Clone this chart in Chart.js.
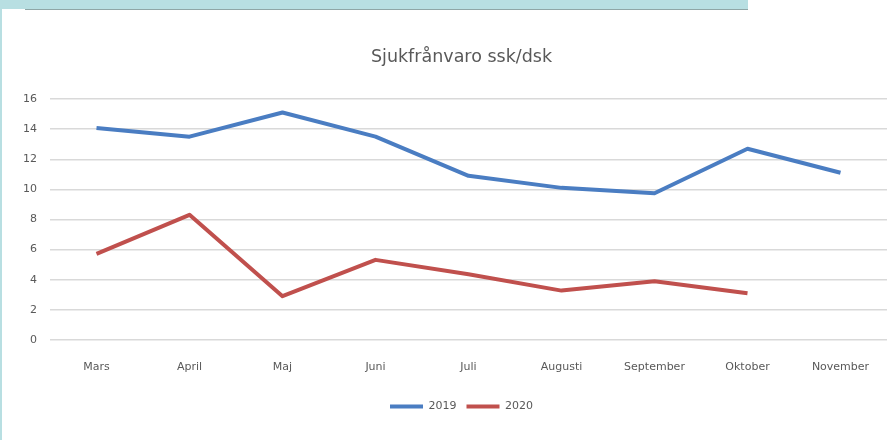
<!DOCTYPE html>
<html>
<head>
<meta charset="utf-8">
<script src="https://cdn.jsdelivr.net/npm/chart.js@4.4.1/dist/chart.umd.min.js"></script>
<style>
  html, body { margin: 0; padding: 0; background: #ffffff; }
  #wrap { position: relative; width: 887px; height: 440px; overflow: hidden; }
  #topband { position: absolute; left: 0; top: 0; width: 748px; height: 9px; background: #b8dfe2; }
  #topline { position: absolute; left: 25px; top: 9px; width: 723px; height: 1px; background: #8fa6a6; }
  #leftband { position: absolute; left: 0; top: 0; width: 2px; height: 440px; background: #b8dfe2; }
  canvas { position: absolute; left: 0; top: 0; }
</style>
</head>
<body>
<div id="wrap">
  <canvas id="c" width="887" height="440"></canvas>
  <div id="topband"></div>
  <div id="topline"></div>
  <div id="leftband"></div>
</div>
<script>
const categories = ["Mars", "April", "Maj", "Juni", "Juli", "Augusti", "September", "Oktober", "November"];
const values2019 = [14.08, 13.5, 15.1, 13.5, 10.9, 10.1, 9.74, 12.7, 11.1];
const values2020 = [5.72, 8.31, 2.91, 5.32, 4.37, 3.28, 3.9, 3.1, null];
const seriesLabels = ["2019", "2020"];
const titleText = "Sjukfrånvaro ssk/dsk";

const FONT = "'DejaVu Sans', sans-serif";

// Title and legend are centred a little right of the canvas centre in the reference
const shiftBlocks = {
  id: 'shiftBlocks',
  afterLayout(chart) {
    [chart.titleBlock, chart.legend].forEach(b => { if (b) { b.left += 36; } });
  }
};

new Chart(document.getElementById('c'), {
  type: 'line',
  data: {
    labels: categories,
    datasets: [
      { label: seriesLabels[0], data: values2019, borderColor: '#4a7dc2', backgroundColor: '#4a7dc2',
        borderWidth: 4, pointRadius: 0, tension: 0, borderJoinStyle: 'round' },
      { label: seriesLabels[1], data: values2020, borderColor: '#c0504d', backgroundColor: '#c0504d',
        borderWidth: 4, pointRadius: 0, tension: 0, borderJoinStyle: 'round' }
    ]
  },
  plugins: [shiftBlocks],
  options: {
    responsive: false,
    animation: false,
    layout: { padding: { top: 0, right: 0, bottom: 18, left: 0 } },
    plugins: {
      title: {
        display: true, text: titleText, color: '#595959',
        font: { family: FONT, size: 17.5, weight: 'normal' },
        padding: { top: 47, bottom: 31 }
      },
      legend: {
        position: 'bottom',
        labels: {
          color: '#595959', font: { family: FONT, size: 11 },
          boxWidth: 33, boxHeight: 4, padding: 10,
          generateLabels: (chart) => {
            const items = Chart.defaults.plugins.legend.labels.generateLabels(chart);
            items.forEach(it => { it.lineWidth = 0; it.strokeStyle = 'rgba(0,0,0,0)'; });
            return items;
          }
        }
      },
      tooltip: { enabled: false }
    },
    scales: {
      x: {
        offset: true,
        grid: { display: false },
        border: { display: false },
        ticks: { color: '#595959', font: { family: FONT, size: 11 }, padding: 12.5, maxRotation: 0, autoSkip: false },
        afterFit: (s) => { s.height = 51; }
      },
      y: {
        min: 0, max: 16,
        grid: { color: '#d9d9d9', lineWidth: 1.5, drawTicks: false },
        border: { display: false },
        ticks: { stepSize: 2, color: '#595959', font: { family: FONT, size: 11 }, padding: 13 },
        afterFit: (s) => { s.width = 50; }
      }
    }
  }
});
</script>
</body>
</html>
